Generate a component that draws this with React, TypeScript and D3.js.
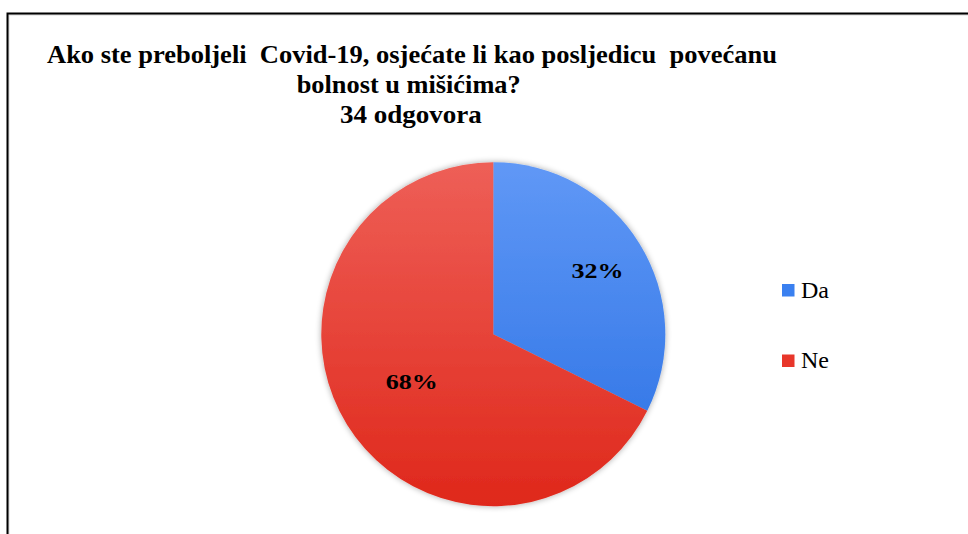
import React from "react";
import * as d3 from "d3";

const categories = ["Da", "Ne"];
const counts = [11, 23];
const labels = ["32%", "68%"];
const titleLines = [
  "Ako ste preboljeli  Covid-19, osjećate li kao posljedicu  povećanu",
  "bolnost u mišićima?",
  "34 odgovora",
];
const gradTop = ["#6098f6", "#ee5f57"];
const gradBottom = ["#286fe3", "#df281b"];
const legendColors = ["#3a80f0", "#e8362a"];

const FF = "'Liberation Serif', 'Times New Roman', serif";

export default function App() {
  const W = 968, H = 534;
  const cx = 493.3, cy = 334.2, r = 172;
  const pie = d3.pie<number>().sort(null).value((d) => d);
  const arcs = pie(counts);
  const arc = d3.arc<d3.PieArcDatum<number>>().innerRadius(0).outerRadius(r);
  const labelPos = [
    [597.5, 278.3],
    [411.7, 389.3],
  ];
  const titleLens = [730, 224, 142];
  const titleX = [412, 408.7, 410.9];
  const titleY = [62.7, 93, 123];
  return (
    <svg width={W} height={H} style={{ position: "absolute", left: 0, top: 0, fontFamily: FF }}>
      <defs>
        {categories.map((c, i) => (
          <linearGradient key={c} id={"g" + i} gradientUnits="userSpaceOnUse" x1={0} y1={-r} x2={0} y2={r}>
            <stop offset="0" stopColor={gradTop[i]} />
            <stop offset="1" stopColor={gradBottom[i]} />
          </linearGradient>
        ))}
        <filter id="sh" x="-20%" y="-20%" width="140%" height="140%">
          <feGaussianBlur in="SourceAlpha" stdDeviation="3" />
          <feComponentTransfer><feFuncA type="linear" slope="0.35" /></feComponentTransfer>
          <feMerge><feMergeNode /><feMergeNode in="SourceGraphic" /></feMerge>
        </filter>
      </defs>
      <rect x={0} y={0} width={W} height={H} fill="#fff" />
      <rect x={8.5} y={14.5} width={W + 20} height={H + 20} fill="none" stroke="#d8d8d8" strokeWidth={2} />
      <rect x={7.5} y={13.5} width={W + 20} height={H + 20} fill="none" stroke="#000" strokeWidth={2} />
      {titleLines.map((t, i) => (
        <text key={i} x={titleX[i]} y={titleY[i]} textAnchor="middle" fontWeight="bold" fontSize={25} textLength={titleLens[i]} lengthAdjust="spacingAndGlyphs" fill="#000" style={{ whiteSpace: "pre", fontFamily: FF }}>{t}</text>
      ))}
      <g transform={`translate(${cx},${cy})`} filter="url(#sh)">
        {arcs.map((a, i) => (
          <path key={i} d={arc(a) || ""} fill={`url(#g${i})`} />
        ))}
      </g>
      {labels.map((l, i) => (
        <text key={i} x={labelPos[i][0]} y={labelPos[i][1]} textAnchor="middle" fontWeight="bold" fontSize={22} textLength={52} lengthAdjust="spacingAndGlyphs" fill="#000" style={{ fontFamily: FF }}>{l}</text>
      ))}
      {categories.map((c, i) => (
        <g key={c}>
          <rect x={782} y={284 + i * 70.5} width={12.5} height={12.5} fill={legendColors[i]} />
          <text x={801} y={297.7 + i * 70.5} fontSize={24} fill="#000" style={{ fontFamily: FF }}>{c}</text>
        </g>
      ))}
    </svg>
  );
}
